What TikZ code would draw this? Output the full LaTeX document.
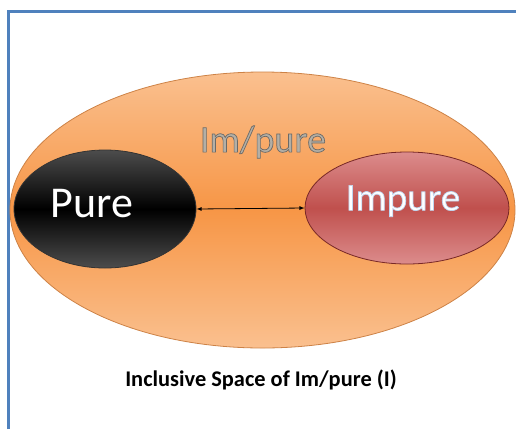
\documentclass[tikz,border=0pt]{standalone}
\usepackage{fontspec}
\setmainfont{Carlito}
\usetikzlibrary{shapes.geometric}

\definecolor{ramblue}{RGB}{79,129,189}
\definecolor{orangemid}{RGB}{247,150,70}
\definecolor{orangelight}{RGB}{250,192,143}
\definecolor{orangeedge}{RGB}{205,130,70}
\definecolor{redmid}{RGB}{192,80,77}
\definecolor{redlight}{RGB}{220,140,140}
\definecolor{redged}{RGB}{120,40,38}
\definecolor{grayfill}{RGB}{180,175,165}

% konturtext
\newcommand{\outlined}[2]{\special{pdf:literal direct 2 Tr 0.7 w #1 RG}#2\special{pdf:literal direct 0 Tr}}

\tikzset{
  blob/.style={ellipse, inner sep=0pt, line width=0.8pt},
  spacebox/.style={blob, draw=orangeedge, top color=orangelight, bottom color=orangelight, middle color=orangemid},
  purebox/.style={blob, draw=black!80, top color=black!70, bottom color=black!70, middle color=black, text=white},
  impurebox/.style={blob, draw=redged, top color=redlight, bottom color=redlight, middle color=redmid, text=white}
}

\begin{document}
\begin{tikzpicture}[x=1pt,y=-1pt]
  \useasboundingbox (0,0) rectangle (516,429);
  % Ram
  \draw[ramblue, line width=3pt] (8.5,429) -- (8.5,11) -- (516,11);
  % Ellipser
  \node[spacebox, minimum width=505pt, minimum height=276pt] (space) at (262.5,210) {};
  \node[purebox, minimum width=182pt, minimum height=118pt] (pure) at (105,209) {};
  \node[impurebox, minimum width=204pt, minimum height=112pt] (impure) at (407,208) {};
  % Texter
  \node[text=white, font=\fontsize{44}{44}\selectfont] (puretext) at (92,204) {Pure};
  \node[text=white, font=\fontsize{39}{39}\selectfont] (impuretext) at (403,201) {\outlined{0.75 0.84 0.94}{Impure}};
  \node[text=grayfill, font=\fontsize{38}{38}\selectfont] (imtext) at (263,142) {\outlined{0.42 0.41 0.40}{Im/pure}};
  \node[font=\bfseries\fontsize{22.4}{22.4}\selectfont] (caption) at (261,380) {Inclusive Space of Im/pure (I)};
  % Pil
  \draw[<->, >=latex, thick] (pure.east) -- (impure.west);
\end{tikzpicture}
\end{document}
